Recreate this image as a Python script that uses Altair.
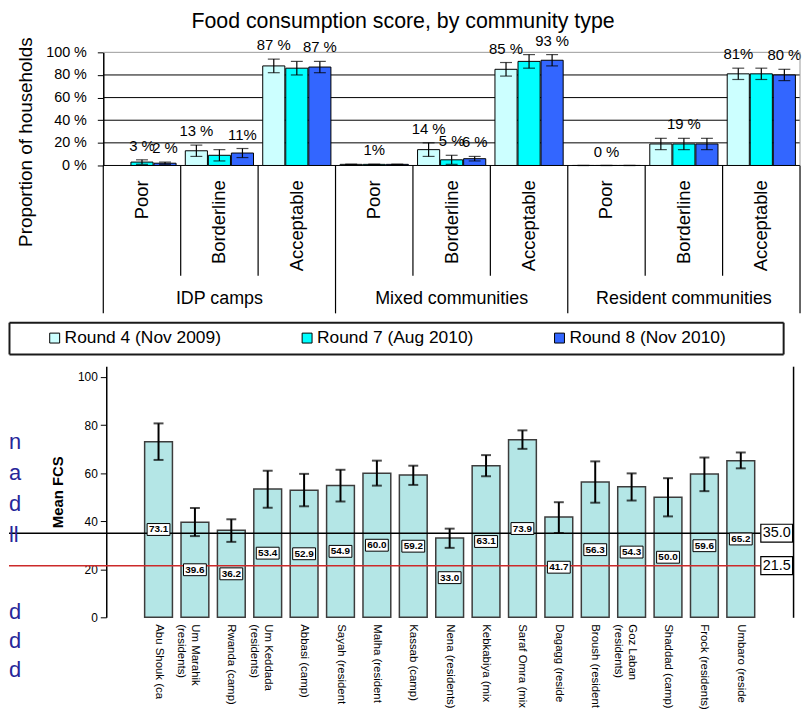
import altair as alt
import pandas as pd

FONT = "Liberation Sans"

# ---------------- top chart data ----------------
groups = ["IDP camps", "Mixed communities", "Resident communities"]
levels = ["Poor", "Borderline", "Acceptable"]
rounds = ["Round 4 (Nov 2009)", "Round 7 (Aug 2010)", "Round 8 (Nov 2010)"]
round_colors = ["#ccffff", "#00ffff", "#3366ff"]

share_r4 = [None, 13, 88, 1, 14, 85, 0, 19, 81]
share_r7 = [3, 9, 86, 1, 5, 92, 0, 19, 81]
share_r8 = [2, 11, 87, 1, 6, 93, 0, 19, 80]
err_r4 = [None, 5, 6, 0, 6, 6, 0, 5, 5]
err_r7 = [2, 5, 6, 0, 4, 6, 0, 5, 5]
err_r8 = [1, 4, 5, 0, 2, 5, 0, 5, 5]
label_r4 = ["", "13 %", "87 %", "", "14 %", "85 %", "", "", "81%"]
label_r7 = ["3 %", "", "", "1%", "5 %", "", "0 %", "19 %", ""]
label_r8 = ["2 %", "11%", "87 %", "", "6 %", "93 %", "", "", "80 %"]
pct_ticks = [0, 20, 40, 60, 80, 100]

# ---------------- bottom chart data ----------------
sites = ["Abu Shouk (camp)", "Um Marahik\n(residents)", "Rwanda (camp)",
         "Um Keddada\n(residents)", "Abbasi (camp)", "Sayah (residents)",
         "Malha (residents)", "Kassab (camp)", "Nena (residents)",
         "Kebkabiya (mixed)", "Saraf Omra (mixed)", "Dagagg (residents)",
         "Broush (residents)", "Goz Laban\n(residents)", "Shaddad (camp)",
         "Frock (residents)", "Umbaro (residents)"]
mean_fcs = [73.1, 39.6, 36.2, 53.4, 52.9, 54.9, 60.0, 59.2, 33.0, 63.1,
            73.9, 41.7, 56.3, 54.3, 50.0, 59.6, 65.2]
ci_low = [65.5, 33.8, 31.4, 45.6, 46.2, 48.2, 54.8, 55.1, 28.9, 58.7,
          70.1, 35.1, 47.7, 48.6, 42.0, 52.5, 62.0]
ci_high = [80.7, 45.5, 40.8, 61.0, 59.7, 61.4, 65.2, 63.1, 36.9, 67.5,
           77.8, 47.9, 64.9, 59.9, 57.9, 66.5, 68.6]
fcs_ticks = [0, 20, 40, 60, 80, 100]
thresholds = [35.0, 21.5]
threshold_colors = ["#000000", "#cc2a2a"]
side_text_1 = ["n", "a", "d", "ll"]
side_text_2 = ["d", "d", "d"]

# ================= top chart =================
keys = [f"{g}|{l}" for g in groups for l in levels]
shares = [share_r4, share_r7, share_r8]
errs = [err_r4, err_r7, err_r8]
labs = [label_r4, label_r7, label_r8]
rows = []
for ki, key in enumerate(keys):
    for ri, r in enumerate(rounds):
        v = shares[ri][ki]
        e = errs[ri][ki]
        rows.append(dict(key=key, round=r, value=v,
                         lo=None if v is None else v - e,
                         hi=None if v is None else v + e,
                         label=labs[ri][ki]))
top_df = pd.DataFrame(rows)
sub_df = pd.DataFrame(dict(key=keys, level=[k.split("|")[1] for k in keys]))
grp_df = pd.DataFrame(dict(key=[f"{g}|Borderline" for g in groups], group=groups))
grid_df = pd.DataFrame(dict(v=pct_ticks, ks=[keys[0]] * len(pct_ticks)))

TW, TH = 797, 114
xs = alt.Scale(domain=keys, paddingInner=0, paddingOuter=0.609, align=1)
X = alt.X("key:N", scale=xs, axis=None)
XO = alt.XOffset("round:N", scale=alt.Scale(domain=rounds, paddingInner=0.04, paddingOuter=0.2))
ys = alt.Scale(domain=[0, 100], nice=False)

top_axis = alt.Axis(
    values=pct_ticks, labelExpr="datum.value + ' %'", grid=False, labelOverlap=False, offset=-95,
    domainColor="black", domainWidth=1.5, tickColor="black", tickSize=6,
    labelPadding=11, labelFontSize=14.5, labelColor="black", labelBound=False,
    title="Proportion of households", titleFontSize=19, titleFontWeight="normal",
    titleColor="black", titleX=-78, titleY=90, titleAngle=270,
    titleAlign="center", titleBaseline="middle")

def Yt(field):
    return alt.Y(field, scale=ys, axis=None)

grid = alt.Chart(grid_df).mark_rule(strokeWidth=1).encode(
    x=alt.X("ks:N", scale=xs, axis=None, bandPosition=0), x2=alt.value("width"),
    y=alt.Y("v:Q", scale=ys, axis=top_axis),
    color=alt.condition("datum.v >= 100", alt.value("#9a9a9a"), alt.value("black")))
tb = alt.Chart(top_df)
valid = "isValid(datum.value)"
bars = tb.transform_filter(valid).mark_bar(stroke="black", strokeWidth=1).encode(
    x=X, xOffset=XO, y=Yt("value:Q"),
    color=alt.Color("round:N", scale=alt.Scale(domain=rounds, range=round_colors), legend=None))
err = tb.transform_filter(valid).mark_rule(color="black", strokeWidth=1.2).encode(
    x=X, xOffset=XO, y=Yt("lo:Q"), y2="hi:Q")
cap_lo = tb.transform_filter(valid).mark_tick(color="black", thickness=1.2, size=12).encode(
    x=X, xOffset=XO, y=Yt("lo:Q"))
cap_hi = tb.transform_filter(valid).mark_tick(color="black", thickness=1.2, size=12).encode(
    x=X, xOffset=XO, y=Yt("hi:Q"))
vlab = tb.transform_filter(valid).mark_text(fontSize=15, dy=-9, baseline="alphabetic", color="black").encode(
    x=X, xOffset=XO, y=Yt("hi:Q"), text="label:N")
sublab = alt.Chart(sub_df).mark_text(angle=270, align="right", baseline="middle", fontSize=18.5, color="black").encode(
    x=X, y=alt.value(129), text="level:N")
grplab = alt.Chart(grp_df).mark_text(baseline="middle", fontSize=18, color="black").encode(
    x=X, y=alt.value(249), text="group:N")
sep_short = alt.Chart(sub_df).transform_filter("datum.level != 'Poor'").mark_rule(color="black", strokeWidth=1.2).encode(
    x=alt.X("key:N", scale=xs, axis=None, bandPosition=0), y=alt.value(TH), y2=alt.value(225))
sep_long = alt.Chart(sub_df).transform_filter("datum.level == 'Poor'").mark_rule(color="black", strokeWidth=1.2).encode(
    x=alt.X("key:N", scale=xs, axis=None, bandPosition=0), y=alt.value(TH), y2=alt.value(263))
end_df = sub_df[sub_df.key == keys[-1]]
sep_end = alt.Chart(end_df).mark_rule(color="black", strokeWidth=1.2).encode(
    x=alt.X("key:N", scale=xs, axis=None, bandPosition=1), y=alt.value(TH), y2=alt.value(263))
border_right = alt.Chart(end_df).mark_rule(color="#9a9a9a", strokeWidth=1).encode(
    x=alt.X("key:N", scale=xs, axis=None, bandPosition=1), y=alt.value(0), y2=alt.value(TH))

top = alt.layer(grid, bars, err, cap_lo, cap_hi, vlab, sublab, grplab,
                sep_short, sep_long, sep_end, border_right).resolve_axis(y="independent").properties(
    width=TW, height=TH,
    title=alt.Title("Food consumption score, by community type", fontSize=21.5, fontWeight="normal",
                    color="black", anchor="middle", frame="group", dx=-1.5, offset=1))

# ================= legend panel =================
leg_df = pd.DataFrame(dict(round=rounds, i=[0, 1, 2], mid=[0.5, 0.5, 0.5]))
xl = alt.Scale(domain=[-0.181, 2.886], nice=False, zero=False)
yl = alt.Scale(domain=[0, 1], nice=False, zero=False)
box = dict(domain=True, domainColor="#1a1a1a", domainWidth=2, ticks=False, labels=False, grid=False, title=None)
sym = alt.Chart(leg_df).mark_square(size=100, stroke="black", strokeWidth=1, opacity=1).encode(
    x=alt.X("i:Q", scale=xl, axis=alt.Axis(orient="bottom", **box)),
    y=alt.Y("mid:Q", scale=yl, axis=alt.Axis(orient="left", **box)),
    color=alt.Color("round:N", scale=alt.Scale(domain=rounds, range=round_colors), legend=None))
symtxt = alt.Chart(leg_df).mark_text(align="left", baseline="middle", dx=10, fontSize=17.5, color="black").encode(
    x=alt.X("i:Q", scale=xl, axis=alt.Axis(orient="top", **box)),
    y=alt.Y("mid:Q", scale=yl, axis=alt.Axis(orient="right", **box)),
    text="round:N")
legend_panel = alt.layer(sym, symtxt).resolve_axis(x="independent", y="independent").properties(width=780, height=32)

# ================= bottom chart =================
bot_df = pd.DataFrame(dict(site=sites, fcs=mean_fcs, lo=ci_low, hi=ci_high))
thr_df = pd.DataFrame(dict(thr=thresholds, col=threshold_colors))
BW, BH = 790, 253
xb = alt.Scale(domain=sites, range=[100, 788], paddingInner=0.236, paddingOuter=1)
yb = alt.Scale(domain=[0, 104.5], nice=False)
xb_axis = alt.Axis(labels=False, tickSize=5, tickColor="black",
                   domainColor="black", domainWidth=1.5, title=None)
yb_axis = alt.Axis(values=fcs_ticks, offset=-98, grid=False, tickSize=6, tickColor="black",
                   domainColor="black", domainWidth=1.5, labelFontSize=12, labelPadding=3,
                   labelColor="black", labelOverlap=False, title="Mean FCS", titleFontSize=15,
                   titleFontWeight="bold", titleColor="black", titleX=-49,
                   titleBaseline="middle", titleAlign="center")
XBn = alt.X("site:N", scale=xb, axis=None)

bb = alt.Chart(bot_df)
bbars = bb.mark_bar(fill="#b4e6e6", stroke="#3c3c3c", strokeWidth=1.5).encode(
    x=alt.X("site:N", scale=xb, axis=xb_axis), y=alt.Y("fcs:Q", scale=yb, axis=yb_axis))
berr = bb.mark_rule(color="black", strokeWidth=2).encode(x=XBn, y=alt.Y("lo:Q", scale=yb, axis=None), y2="hi:Q")
bcap_lo = bb.mark_tick(color="black", thickness=2, size=10).encode(x=XBn, y=alt.Y("lo:Q", scale=yb, axis=None))
bcap_hi = bb.mark_tick(color="black", thickness=2, size=10).encode(x=XBn, y=alt.Y("hi:Q", scale=yb, axis=None))
xlab = bb.mark_text(angle=90, align="left", baseline="middle", fontSize=11.5, lineBreak="\n",
                    lineHeight=14, limit=88, ellipsis=" ", color="black").encode(
    x=XBn, y=alt.value(BH + 7), text="site:N")
thr_rule = alt.Chart(thr_df).mark_rule(strokeWidth=1.5).encode(
    y=alt.Y("thr:Q", scale=yb, axis=alt.Axis(orient="right", labels=False, ticks=False, grid=False,
                                             domain=True, domainColor="black", domainWidth=1.5, title=None)),
    x=alt.value(0), x2=alt.value(757), color=alt.Color("col:N", scale=None))
vbox = bb.transform_calculate(mid="datum.fcs / 2").mark_point(
    shape="M-1,-0.52H1V0.52H-1Z", size=529, filled=True, fill="white", stroke="black",
    strokeWidth=1, opacity=1).encode(x=XBn, y=alt.Y("mid:Q", scale=yb, axis=None))
vtxt = bb.transform_calculate(mid="datum.fcs / 2").mark_text(
    fontSize=10, fontWeight="bold", baseline="middle", color="black").encode(
    x=XBn, y=alt.Y("mid:Q", scale=yb, axis=None), text=alt.Text("fcs:Q", format=".1f"))
tbox = alt.Chart(thr_df).mark_point(
    shape="M-1,-0.5625H1V0.5625H-1Z", size=1024, filled=True, fill="white", stroke="black",
    strokeWidth=1.2, opacity=1).encode(x=alt.value(773.5), y=alt.Y("thr:Q", scale=yb, axis=None))
ttxt = alt.Chart(thr_df).mark_text(fontSize=14.5, baseline="middle", align="center", color="black").encode(
    x=alt.value(773.5), y=alt.Y("thr:Q", scale=yb, axis=None), text=alt.Text("thr:Q", format=".1f"))
frag1 = alt.Chart(alt.Data(values=[{"a": 1}])).mark_text(
    text=side_text_1, align="left", baseline="alphabetic", fontSize=22, lineHeight=31.3,
    color="#262699").encode(x=alt.value(0), y=alt.value(83))
frag2 = alt.Chart(alt.Data(values=[{"a": 1}])).mark_text(
    text=side_text_2, align="left", baseline="alphabetic", fontSize=22, lineHeight=29,
    color="#262699").encode(x=alt.value(0), y=alt.value(255))

bottom = alt.layer(bbars, berr, bcap_lo, bcap_hi, xlab, thr_rule, vbox, vtxt, tbox, ttxt, frag1, frag2).resolve_axis(
    y="independent").properties(width=BW, height=BH)

upper = alt.vconcat(top, legend_panel, spacing=7.9)
chart = alt.vconcat(upper, bottom, spacing=12.25).resolve_scale(
    x="independent", y="independent", color="independent").properties(
    padding=0).configure(font=FONT).configure_view(strokeWidth=0)

chart.save("out.html", embed_options={"renderer": "svg", "actions": False})
